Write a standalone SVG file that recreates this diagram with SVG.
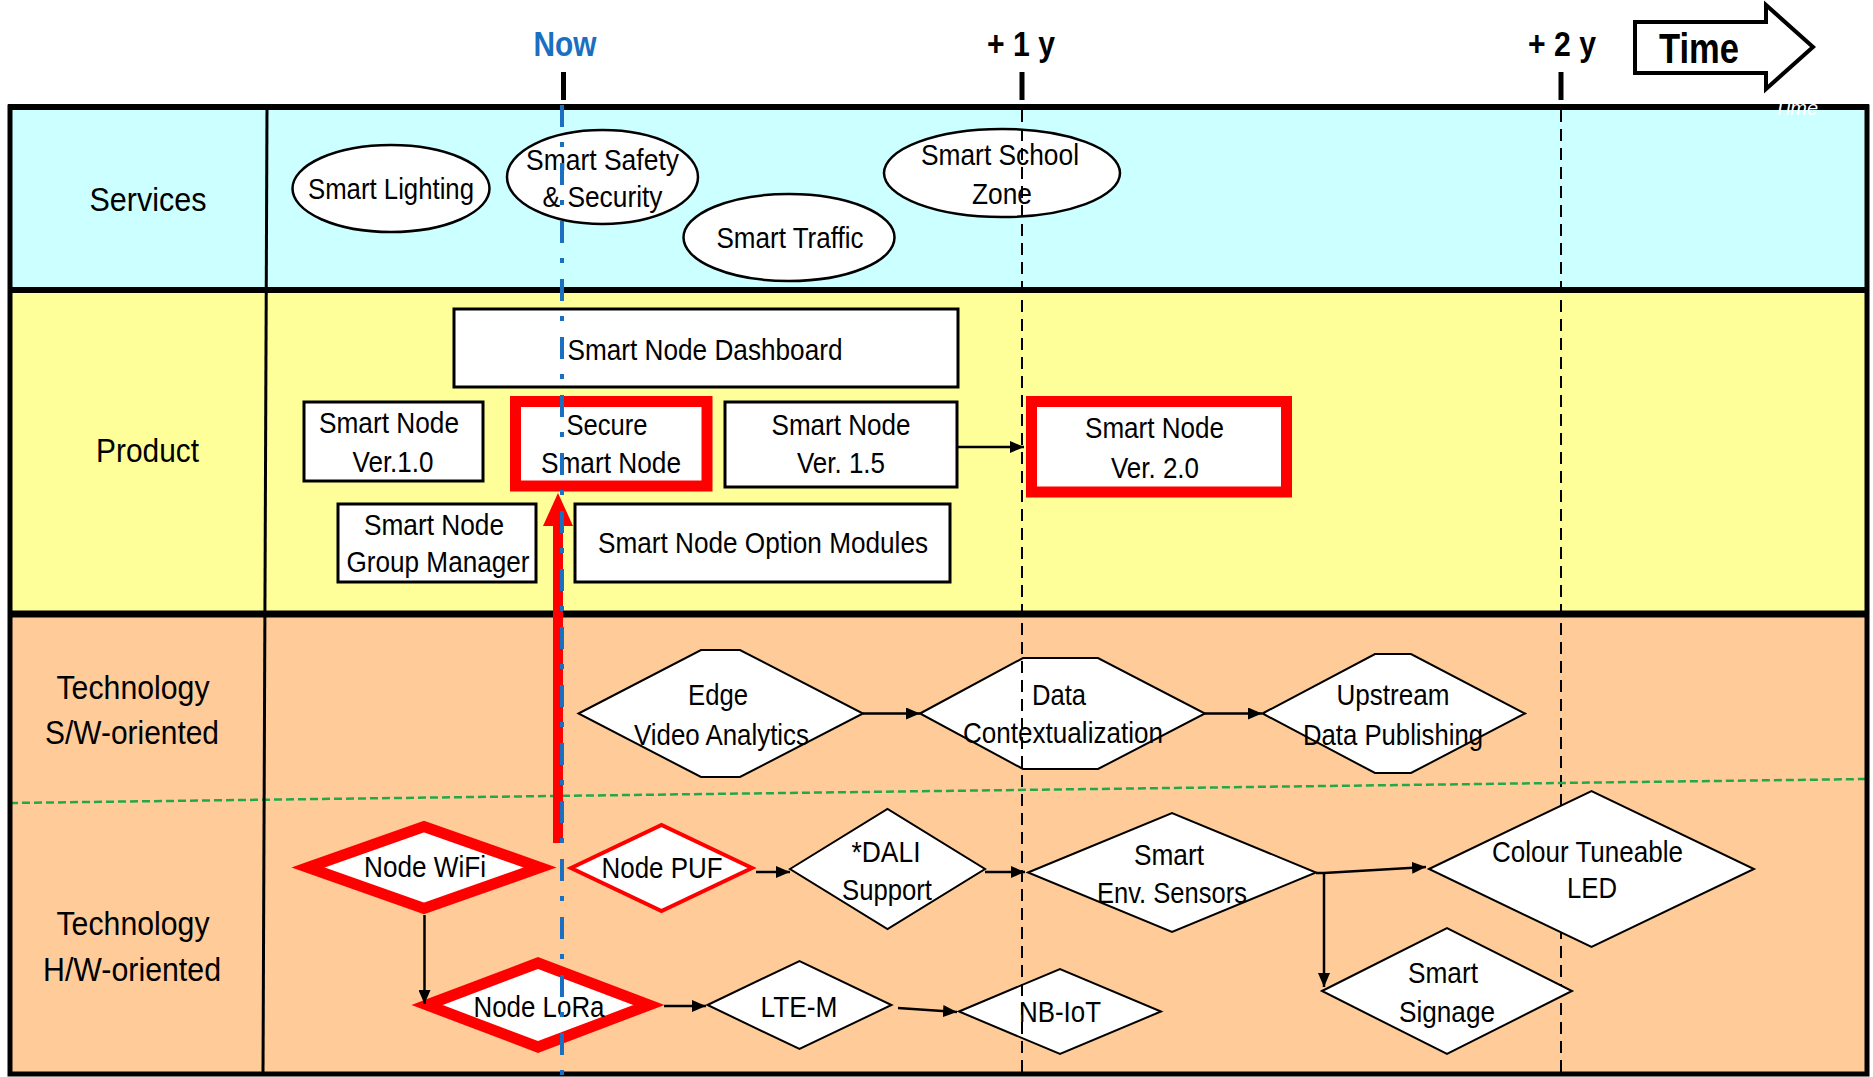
<svg xmlns="http://www.w3.org/2000/svg" width="1873" height="1077" viewBox="0 0 1873 1077">
<defs>
<style>
.t{font-family:"Liberation Sans",Arial,sans-serif;font-size:30px;fill:#000;text-anchor:middle}
.lbl{font-size:33px}
.hd{font-family:"Liberation Sans",Arial,sans-serif;font-weight:bold;text-anchor:middle}
.box{fill:#fff;stroke:#000;stroke-width:3}
.rbox{fill:#fff;stroke:#ff0000;stroke-width:11}
.ell{fill:#fff;stroke:#000;stroke-width:2.5}
.dia{fill:#fff;stroke:#000;stroke-width:2}
.rdia{fill:#fff;stroke:#ff0000;stroke-linejoin:miter;stroke-miterlimit:10}
.conn{stroke:#000;stroke-width:2.5;fill:none;marker-end:url(#ah)}
.yr{stroke:#000;stroke-width:2;stroke-dasharray:12 7;fill:none}
.tick{stroke:#000;stroke-width:5}
.border{stroke:#000;fill:none}
</style>
<marker id="ah" markerWidth="14" markerHeight="12" refX="14" refY="6" orient="auto" markerUnits="userSpaceOnUse">
<path d="M0,0 L14,6 L0,12 Z" fill="#000"/>
</marker>
</defs>

<g id="background">
<rect x="10" y="107" width="1857" height="183" fill="#ccffff"/>
<rect x="10" y="290" width="1857" height="324" fill="#ffff99"/>
<rect x="10" y="614" width="1857" height="460" fill="#ffcc99"/>
</g>

<g id="timeline">
<text class="hd" x="565" y="56" font-size="35" fill="#1a6fc0" textLength="63" lengthAdjust="spacingAndGlyphs">Now</text>
<text class="hd" x="1021" y="56" font-size="35" textLength="68" lengthAdjust="spacingAndGlyphs">+ 1 y</text>
<text class="hd" x="1562" y="56" font-size="35" textLength="68" lengthAdjust="spacingAndGlyphs">+ 2 y</text>
<line class="tick" x1="563.5" y1="72" x2="563.5" y2="100"/>
<line class="tick" x1="1022" y1="72" x2="1022" y2="100"/>
<line class="tick" x1="1561" y1="72" x2="1561" y2="100"/>
<g id="time-arrow">
<polygon points="1635,22 1766,22 1766,5 1813,47 1766,89 1766,73 1635,73" fill="#fff" stroke="#000" stroke-width="4"/>
<text class="hd" x="1699" y="63" font-size="42" textLength="80" lengthAdjust="spacingAndGlyphs">Time</text>
</g>
</g>

<g id="grid">
<line class="yr" x1="1561" y1="110" x2="1561" y2="1074"/>
<line x1="10" y1="803" x2="1867" y2="779" stroke="#22a84a" stroke-width="2.5" stroke-dasharray="8 4"/>
<line class="border" x1="267" y1="107" x2="263" y2="1074" stroke-width="3"/>
<line class="border" x1="10" y1="290" x2="1867" y2="290" stroke-width="6"/>
<line class="border" x1="10" y1="614" x2="1867" y2="614" stroke-width="7"/>
<rect class="border" x="10" y="107" width="1857" height="967" stroke-width="5"/>
<line class="border" x1="8" y1="107" x2="1869" y2="107" stroke-width="6"/>
</g>

<g id="lane-labels">
<text class="t lbl" x="148" y="211" textLength="117" lengthAdjust="spacingAndGlyphs">Services</text>
<text class="t lbl" x="147.5" y="462" textLength="103" lengthAdjust="spacingAndGlyphs">Product</text>
<text class="t lbl" x="133" y="699" textLength="153" lengthAdjust="spacingAndGlyphs">Technology</text>
<text class="t lbl" x="132" y="744" textLength="174" lengthAdjust="spacingAndGlyphs">S/W-oriented</text>
<text class="t lbl" x="133" y="935" textLength="153" lengthAdjust="spacingAndGlyphs">Technology</text>
<text class="t lbl" x="132" y="981" textLength="178" lengthAdjust="spacingAndGlyphs">H/W-oriented</text>
</g>

<g id="smart-lighting">
<ellipse class="ell" cx="391" cy="188.5" rx="98.5" ry="43.5"/>
<text class="t" x="391" y="199" textLength="166" lengthAdjust="spacingAndGlyphs">Smart Lighting</text>
</g>
<g id="smart-safety">
<ellipse class="ell" cx="602.5" cy="177" rx="95.5" ry="47"/>
<text class="t" x="602.5" y="170" textLength="153" lengthAdjust="spacingAndGlyphs">Smart Safety</text>
<text class="t" x="602.5" y="207" textLength="120" lengthAdjust="spacingAndGlyphs">&amp; Security</text>
</g>
<g id="smart-traffic">
<ellipse class="ell" cx="789" cy="237.5" rx="105.5" ry="43.5"/>
<text class="t" x="790" y="248" textLength="147" lengthAdjust="spacingAndGlyphs">Smart Traffic</text>
</g>
<g id="smart-school">
<ellipse class="ell" cx="1002" cy="173" rx="118" ry="44"/>
<text class="t" x="1000" y="165" textLength="158" lengthAdjust="spacingAndGlyphs">Smart School</text>
<text class="t" x="1002" y="204" textLength="60" lengthAdjust="spacingAndGlyphs">Zone</text>
</g>

<g id="dashboard">
<rect class="box" x="454" y="309" width="504" height="78"/>
<text class="t" x="705" y="360" textLength="275" lengthAdjust="spacingAndGlyphs">Smart Node Dashboard</text>
</g>
<g id="ver10">
<rect class="box" x="304" y="402" width="179" height="79"/>
<text class="t" x="389" y="433" textLength="140" lengthAdjust="spacingAndGlyphs">Smart Node</text>
<text class="t" x="393" y="472" textLength="81" lengthAdjust="spacingAndGlyphs">Ver.1.0</text>
</g>
<g id="secure">
<rect class="rbox" x="515.5" y="401.5" width="191.5" height="84.5"/>
<text class="t" x="607" y="435" textLength="81" lengthAdjust="spacingAndGlyphs">Secure</text>
<text class="t" x="611" y="473" textLength="140" lengthAdjust="spacingAndGlyphs">Smart Node</text>
</g>
<g id="ver15">
<rect class="box" x="725" y="402" width="232" height="85"/>
<text class="t" x="841" y="435" textLength="139" lengthAdjust="spacingAndGlyphs">Smart Node</text>
<text class="t" x="841" y="473" textLength="88" lengthAdjust="spacingAndGlyphs">Ver. 1.5</text>
</g>
<g id="group-manager">
<rect class="box" x="338" y="504" width="198" height="78"/>
<text class="t" x="434" y="535" textLength="140" lengthAdjust="spacingAndGlyphs">Smart Node</text>
<text class="t" x="438" y="572" textLength="183" lengthAdjust="spacingAndGlyphs">Group Manager</text>
</g>
<g id="option-modules">
<rect class="box" x="575" y="504" width="375" height="78"/>
<text class="t" x="763" y="553" textLength="330" lengthAdjust="spacingAndGlyphs">Smart Node Option Modules</text>
</g>
<g id="ver20">
<rect class="rbox" x="1031.5" y="401.5" width="255" height="90.5"/>
<text class="t" x="1154.5" y="438" textLength="139" lengthAdjust="spacingAndGlyphs">Smart Node</text>
<text class="t" x="1155" y="478" textLength="88" lengthAdjust="spacingAndGlyphs">Ver. 2.0</text>
</g>

<g id="edge">
<polygon class="dia" points="578.5,713.5 701,650 740,650 863,713.5 740,777 701,777"/>
<text class="t" x="718" y="705" textLength="60" lengthAdjust="spacingAndGlyphs">Edge</text>
<text class="t" x="721.5" y="745" textLength="175" lengthAdjust="spacingAndGlyphs">Video Analytics</text>
</g>
<g id="data-ctx">
<polygon class="dia" points="920,713.5 1023,658 1098,658 1205,713.5 1098,769 1023,769"/>
<text class="t" x="1059" y="705" textLength="54" lengthAdjust="spacingAndGlyphs">Data</text>
<text class="t" x="1063" y="743" textLength="200" lengthAdjust="spacingAndGlyphs">Contextualization</text>
</g>
<g id="upstream">
<polygon class="dia" points="1262.5,713.5 1375,654 1411,654 1525,713.5 1411,773 1375,773"/>
<text class="t" x="1393" y="705" textLength="113" lengthAdjust="spacingAndGlyphs">Upstream</text>
<text class="t" x="1393" y="745" textLength="180" lengthAdjust="spacingAndGlyphs">Data Publishing</text>
</g>

<g id="node-wifi">
<polygon class="rdia" stroke-width="11" points="308,867.5 424,826.5 540,867.5 424,908.5"/>
<text class="t" x="425" y="877" textLength="122" lengthAdjust="spacingAndGlyphs">Node WiFi</text>
</g>
<g id="node-puf">
<polygon class="rdia" stroke-width="4" points="571,868 661.5,825 752,868 661.5,911"/>
<text class="t" x="662" y="878" textLength="121" lengthAdjust="spacingAndGlyphs">Node PUF</text>
</g>
<g id="dali">
<polygon class="dia" points="790,869 887.5,809 985,869 887.5,929"/>
<text class="t" x="886" y="862" textLength="69" lengthAdjust="spacingAndGlyphs">*DALI</text>
<text class="t" x="887" y="900" textLength="90" lengthAdjust="spacingAndGlyphs">Support</text>
</g>
<g id="env-sensors">
<polygon class="dia" points="1028,872.5 1172,813 1316,872.5 1172,932"/>
<text class="t" x="1169" y="865" textLength="70" lengthAdjust="spacingAndGlyphs">Smart</text>
<text class="t" x="1172" y="903" textLength="150" lengthAdjust="spacingAndGlyphs">Env. Sensors</text>
</g>
<g id="colour-led">
<polygon class="dia" points="1429,869 1591.5,791 1754,869 1591.5,947"/>
<text class="t" x="1587.5" y="862" textLength="191" lengthAdjust="spacingAndGlyphs">Colour Tuneable</text>
<text class="t" x="1592" y="898" textLength="50" lengthAdjust="spacingAndGlyphs">LED</text>
</g>
<g id="signage">
<polygon class="dia" points="1322,991 1447,928 1572,991 1447,1054"/>
<text class="t" x="1443" y="983" textLength="70" lengthAdjust="spacingAndGlyphs">Smart</text>
<text class="t" x="1447" y="1022" textLength="96" lengthAdjust="spacingAndGlyphs">Signage</text>
</g>
<g id="node-lora">
<polygon class="rdia" stroke-width="11" points="427,1005 538,963 649,1005 538,1047"/>
<text class="t" x="539" y="1017" textLength="131" lengthAdjust="spacingAndGlyphs">Node LoRa</text>
</g>
<g id="lte-m">
<polygon class="dia" points="707.5,1005 799.5,961 891.5,1005 799.5,1049"/>
<text class="t" x="799" y="1017" textLength="77" lengthAdjust="spacingAndGlyphs">LTE-M</text>
</g>
<g id="nb-iot">
<polygon class="dia" points="959,1011.5 1060,969 1161,1011.5 1060,1054"/>
<text class="t" x="1060" y="1022" textLength="82" lengthAdjust="spacingAndGlyphs">NB-IoT</text>
</g>

<g id="connectors">
<line class="conn" x1="957" y1="447" x2="1024" y2="447"/>
<line class="conn" x1="863" y1="713.5" x2="920" y2="713.5"/>
<line class="conn" x1="1205" y1="713.5" x2="1262" y2="713.5"/>
<line class="conn" x1="756" y1="872" x2="790" y2="872"/>
<line class="conn" x1="985" y1="872" x2="1025" y2="872"/>
<path class="conn" d="M1316,873 L1324,873 L1426,867"/>
<path class="conn" d="M1324,873 L1324,987"/>
<line class="conn" x1="424.5" y1="915" x2="424.5" y2="1004"/>
<line class="conn" x1="664" y1="1006" x2="706" y2="1006"/>
<line class="conn" x1="898" y1="1008" x2="957" y2="1012"/>
<g id="red-arrow">
<line x1="558" y1="843" x2="558" y2="520" stroke="#ff0000" stroke-width="10"/>
<polygon points="558,493 543,526 573,526" fill="#ff0000"/>
</g>
</g>

<g id="overlays">
<line class="yr" x1="1022" y1="110" x2="1022" y2="1074"/>
<line x1="562" y1="105" x2="562" y2="1077" stroke="#1a6fc0" stroke-width="4" stroke-dasharray="22 15 5 16"/>
<text x="1796" y="115" font-family="Liberation Sans, Arial, sans-serif" font-style="italic" font-size="20" fill="#fff" text-anchor="middle">Time</text>
</g>
</svg>
